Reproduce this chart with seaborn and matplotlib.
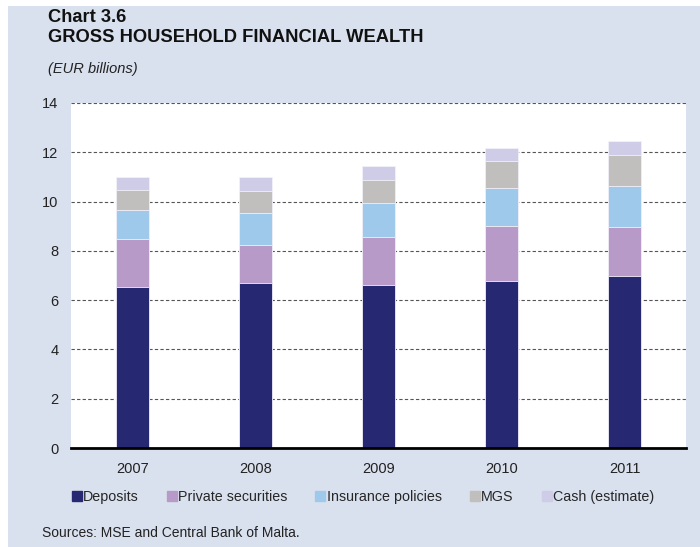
import numpy as np
import pandas as pd
import matplotlib.pyplot as plt
import seaborn as sns
from matplotlib.lines import Line2D
from matplotlib.patches import Rectangle

# dados (EUR billions)
anos = ['2007', '2008', '2009', '2010', '2011']
deposits = [6.53, 6.70, 6.60, 6.79, 6.97]
private_sec = [1.94, 1.55, 1.96, 2.22, 2.01]
insurance = [1.20, 1.27, 1.37, 1.56, 1.66]
mgs = [0.79, 0.91, 0.96, 1.08, 1.23]
cash = [0.53, 0.58, 0.55, 0.54, 0.58]

series = ['Deposits', 'Private securities', 'Insurance policies', 'MGS', 'Cash (estimate)']
cores = ['#262872', '#b79ac8', '#9fc9ea', '#c0bfbd', '#cfcce8']
BG = '#dae1ee'

sns.set_theme(style='white')
plt.rcParams['font.family'] = ['Liberation Sans', 'DejaVu Sans']

df = pd.DataFrame({'ano': anos, 'Deposits': deposits, 'Private securities': private_sec,
                   'Insurance policies': insurance, 'MGS': mgs, 'Cash (estimate)': cash})
# acumulado para empilhar
cum = df[series].cumsum(axis=1)

fig = plt.figure(figsize=(7, 5.47), dpi=100)
fig.patch.set_facecolor('white')
fig.patches.append(Rectangle((8 / 700, 0), 1, 1 - 6 / 547, transform=fig.transFigure,
                             facecolor=BG, edgecolor='none', zorder=-5))

ax = fig.add_axes([71 / 700, 1 - 448 / 547, (686 - 71) / 700, (448 - 103) / 547])
ax.set_facecolor('white')

# desenha do topo para a base
for nome, cor in reversed(list(zip(series, cores))):
    sns.barplot(x=df['ano'], y=cum[nome], color=cor, width=0.27, ax=ax,
                edgecolor='#f2f0f8', linewidth=0.6, saturation=1, zorder=3)

ax.set_ylim(0, 14)
ax.set_yticks(range(0, 15, 2))
ax.set_xlabel('')
ax.set_ylabel('')
for y in range(2, 15, 2):
    ax.axhline(y, color='#555555', linestyle=(0, (3, 2)), linewidth=0.8, zorder=1)
for s in ['top', 'right', 'left']:
    ax.spines[s].set_visible(False)
ax.spines['bottom'].set_color('black')
ax.spines['bottom'].set_linewidth(2)
ax.spines['bottom'].set_zorder(5)
ax.tick_params(axis='both', length=0, labelsize=10.5, colors='#222222')
ax.tick_params(axis='y', pad=9)
ax.tick_params(axis='x', pad=10)

# títulos
fig.text(48 / 700, 1 - 18 / 547, 'Chart 3.6', fontsize=13.2, fontweight='bold',
         va='center', color='#111111')
fig.text(48 / 700, 1 - 38 / 547, 'GROSS HOUSEHOLD FINANCIAL WEALTH', fontsize=13.2,
         fontweight='bold', va='center', color='#111111')
fig.text(48 / 700, 1 - 69 / 547, '(EUR billions)', fontsize=10.5, style='italic',
         va='center', color='#222222')

# legenda
handles = [Line2D([], [], marker='s', linestyle='none', markersize=6.5,
                  markerfacecolor=c, markeredgecolor=c) for c in cores]
fig.legend(handles, series, loc='center', bbox_to_anchor=(0.519, 1 - 497 / 547),
           ncol=5, frameon=False, fontsize=10.3, handlelength=0.6, handletextpad=0.15,
           columnspacing=2.0)

fig.text(42 / 700, 1 - 533 / 547, 'Sources: MSE and Central Bank of Malta.', fontsize=10,
         va='center', color='#222222')

fig.savefig('out.png', dpi=100)
